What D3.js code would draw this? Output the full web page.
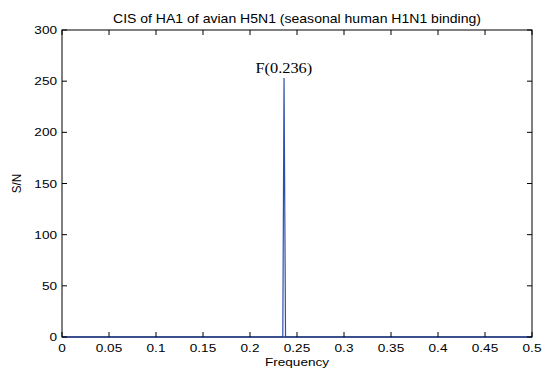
<!DOCTYPE html>
<html>
<head>
<meta charset="utf-8">
<script src="https://cdn.jsdelivr.net/npm/d3@7"></script>
<style>
  html, body { margin: 0; padding: 0; background: #fff; }
  svg { display: block; }
</style>
</head>
<body>
<svg id="chart" width="544" height="370"></svg>
<script>
// Spectrum samples: frequency vs signal-to-noise
const freqs = [0, 0.2349, 0.2362, 0.2378, 0.5];
const snr   = [0, 0, 253, 0, 0];
const peakFreq = 0.236;
const peakLabel = "F(0.236)";
const xTicks = [0, 0.05, 0.1, 0.15, 0.2, 0.25, 0.3, 0.35, 0.4, 0.45, 0.5];
const xTickLabels = ["0", "0.05", "0.1", "0.15", "0.2", "0.25", "0.3", "0.35", "0.4", "0.45", "0.5"];
const yTicks = [0, 50, 100, 150, 200, 250, 300];
const titleText = "CIS of HA1 of avian H5N1 (seasonal human H1N1 binding)";

const svg = d3.select("#chart");
const m = { left: 62, right: 532, top: 30, bottom: 337 };

const x = d3.scaleLinear().domain([0, 0.5]).range([m.left, m.right]);
const y = d3.scaleLinear().domain([0, 300]).range([m.bottom, m.top]);

const tickLen = 5;
const sans = "'Liberation Sans', Arial, Helvetica, sans-serif";
const serif = "'Liberation Serif', 'Times New Roman', serif";
const stretch = 1.17; // glyphs are drawn slightly widened

function label(sel, px, py, txt, opts = {}) {
  const t = sel.append("text")
    .attr("transform", `translate(${px},${py})` + (opts.rotate ? ` rotate(${opts.rotate}) scale(1,${stretch})` : ` scale(${stretch},1)`))
    .attr("text-anchor", opts.anchor || "middle")
    .style("font-family", opts.family || sans)
    .style("font-size", (opts.size || 11.6) + "px")
    .attr("fill", "#000")
    .text(txt);
  return t;
}

// Series line
const pts = freqs.map((f, i) => [f, snr[i]]);
svg.append("path")
  .datum(pts)
  .attr("fill", "none")
  .attr("stroke", "#2f4fb0")
  .attr("stroke-width", 1.2)
  .attr("d", d3.line().x(d => x(d[0])).y(d => y(d[1])));

// Frame
svg.append("rect")
  .attr("x", m.left).attr("y", m.top)
  .attr("width", m.right - m.left).attr("height", m.bottom - m.top)
  .attr("fill", "none").attr("stroke", "#000").attr("stroke-width", 1);

// Baseline in series colour
svg.append("line")
  .attr("x1", x(0)).attr("x2", x(0.5))
  .attr("y1", y(0)).attr("y2", y(0))
  .attr("stroke", "#2f4fb0").attr("stroke-width", 1.2);

// Inward ticks on all four sides
const g = svg.append("g").attr("stroke", "#000").attr("stroke-width", 1);
xTicks.forEach(t => {
  g.append("line").attr("x1", x(t)).attr("x2", x(t)).attr("y1", m.bottom).attr("y2", m.bottom - tickLen);
  g.append("line").attr("x1", x(t)).attr("x2", x(t)).attr("y1", m.top).attr("y2", m.top + tickLen);
});
yTicks.forEach(t => {
  g.append("line").attr("x1", m.left).attr("x2", m.left + tickLen).attr("y1", y(t)).attr("y2", y(t));
  g.append("line").attr("x1", m.right).attr("x2", m.right - tickLen).attr("y1", y(t)).attr("y2", y(t));
});

// Tick labels
const tl = svg.append("g");
xTicks.forEach((t, i) => label(tl, x(t), m.bottom + 15, xTickLabels[i]));
yTicks.forEach(t => label(tl, m.left - 5, y(t) + 4, String(t), { anchor: "end" }));

// Axis titles
label(svg, (m.left + m.right) / 2, 366, "Frequency");
label(svg, 21, (m.top + m.bottom) / 2, "S/N", { rotate: -90 });

// Title
label(svg, (m.left + m.right) / 2, 23, titleText, { size: 12 });

// Peak annotation
label(svg, x(peakFreq), y(d3.max(snr)) - 5.5, peakLabel, { family: serif, size: 14 });
</script>
</body>
</html>
